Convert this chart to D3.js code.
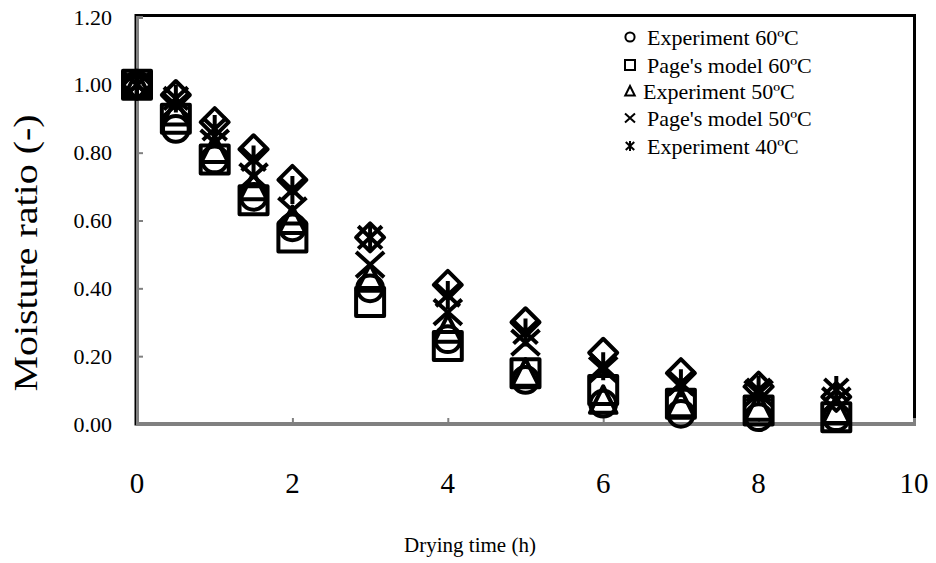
<!DOCTYPE html>
<html>
<head>
  <meta charset="utf-8">
  <title>Moisture ratio vs drying time</title>
  <script src="https://d3js.org/d3.v7.min.js"></script>
  <style>
    body { margin: 0; background: #fff; }
    text { font-family: "Liberation Serif", "Times New Roman", serif; fill: #000; }
  </style>
</head>
<body>
  <svg width="936" height="563"></svg>
  <script>
    // drying times (h)
    const times = [0, 0.5, 1, 1.5, 2, 3, 4, 5, 6, 7, 8, 9];

    // moisture ratio
    const exp60   = [1.00, 0.87, 0.78, 0.67, 0.58, 0.40, 0.25, 0.13, 0.06, 0.03, 0.02, 0.02];
    const page60  = [1.00, 0.90, 0.78, 0.66, 0.55, 0.36, 0.23, 0.15, 0.10, 0.06, 0.04, 0.02];
    const exp50   = [1.00, 0.92, 0.81, 0.70, 0.60, 0.43, 0.28, 0.15, 0.07, 0.06, 0.05, 0.04];
    const page50  = [1.00, 0.94, 0.83, 0.73, 0.63, 0.47, 0.33, 0.24, 0.16, 0.12, 0.09, 0.07];
    const exp40   = [1.00, 0.96, 0.87, 0.78, 0.69, 0.55, 0.38, 0.27, 0.17, 0.12, 0.10, 0.10];
    const page40  = [1.00, 0.97, 0.89, 0.81, 0.72, 0.55, 0.41, 0.30, 0.21, 0.15, 0.11, 0.08];

    const seriesNames = ["Experiment 60ºC", "Page's model 60ºC", "Experiment 50ºC",
                         "Page's model 50ºC", "Experiment 40ºC", "Page's model 40ºC"];
    const seriesValues = [exp60, page60, exp50, page50, exp40, page40];
    const seriesShapes = ["circle", "square", "triangle", "cross", "star", "diamond"];

    const xTicks = [0, 2, 4, 6, 8, 10];
    const yTicks = [0, 0.2, 0.4, 0.6, 0.8, 1.0, 1.2];

    const svg = d3.select("svg");
    const x = d3.scaleLinear().domain([0, 10]).range([137, 914]);
    const y = d3.scaleLinear().domain([0, 1.2]).range([424, 17]);

    // marker path, s = half size
    function shapePath(type, s) {
      if (type === "circle") {
        const r = s * 0.92;
        return `M${-r},0A${r},${r} 0 1,0 ${r},0A${r},${r} 0 1,0 ${-r},0Z`;
      }
      if (type === "square") return `M${-s},${-s}H${s}V${s}H${-s}Z`;
      if (type === "triangle") return `M0,${-s}L${s * 0.95},${s * 0.9}H${-s * 0.95}Z`;
      if (type === "diamond") return `M0,${-s}L${s},0L0,${s}L${-s},0Z`;
      if (type === "cross") return `M${-s},${-s * 0.9}L${s},${s * 0.9}M${s},${-s * 0.9}L${-s},${s * 0.9}`;
      // star: x with vertical bar
      return `M${-s * 0.85},${-s * 0.8}L${s * 0.85},${s * 0.8}M${s * 0.85},${-s * 0.8}L${-s * 0.85},${s * 0.8}M0,${-s}V${s}`;
    }

    // frame
    svg.append("rect")
      .attr("x", 136).attr("y", 15.5)
      .attr("width", 778.5).attr("height", 408.5)
      .attr("fill", "none").attr("stroke", "#000").attr("stroke-width", 3);

    // axes (grey lines and inward ticks)
    const yAxis = svg.append("g")
      .attr("transform", `translate(${x(0)},0)`)
      .call(d3.axisRight(y).tickValues(yTicks).tickSize(6).tickFormat(""));
    const xAxis = svg.append("g")
      .attr("transform", `translate(0,${y(0)})`)
      .call(d3.axisTop(x).tickValues(xTicks).tickSize(6).tickFormat(""));
    [xAxis, yAxis].forEach(g => {
      g.select(".domain").attr("stroke", "#808080").attr("stroke-width", 3);
      g.selectAll(".tick line").attr("stroke", "#808080").attr("stroke-width", 2);
    });

    // tick labels
    svg.append("g").selectAll("text")
      .data(yTicks).join("text")
      .attr("x", 112).attr("y", d => y(d) + 7.5)
      .attr("text-anchor", "end")
      .style("font-size", "22px")
      .text(d => d3.format(".2f")(d));

    svg.append("g").selectAll("text")
      .data(xTicks).join("text")
      .attr("x", d => x(d)).attr("y", 493)
      .attr("text-anchor", "middle")
      .style("font-size", "29px")
      .text(d => d);

    // axis titles
    svg.append("text")
      .attr("transform", "translate(37,253) rotate(-90)")
      .attr("text-anchor", "middle")
      .attr("textLength", 277).attr("lengthAdjust", "spacingAndGlyphs")
      .style("font-size", "33px")
      .text("Moisture ratio (-)");

    svg.append("text")
      .attr("x", 470).attr("y", 552)
      .attr("text-anchor", "middle")
      .style("font-size", "21px")
      .text("Drying time (h)");

    // data markers
    seriesValues.forEach((vals, i) => {
      svg.append("g").selectAll("path")
        .data(times.map((t, j) => [t, vals[j]]))
        .join("path")
        .attr("transform", d => `translate(${x(d[0])},${y(d[1])})`)
        .attr("d", shapePath(seriesShapes[i], 14))
        .attr("fill", "none")
        .attr("stroke", "#000")
        .attr("stroke-width", 4)
        .attr("stroke-linejoin", "round");
    });

    // legend (first five series)
    const legendY = [37, 65, 91, 118, 146];
    const legendTextX = [647, 647, 643, 647, 647];
    const legend = svg.append("g");
    legendY.forEach((ly, i) => {
      legend.append("path")
        .attr("transform", `translate(630,${ly})`)
        .attr("d", shapePath(seriesShapes[i], 5))
        .attr("fill", "none")
        .attr("stroke", "#000")
        .attr("stroke-width", 2);
      legend.append("text")
        .attr("x", legendTextX[i]).attr("y", ly + 8)
        .style("font-size", "22px")
        .text(seriesNames[i]);
    });
  </script>
</body>
</html>
